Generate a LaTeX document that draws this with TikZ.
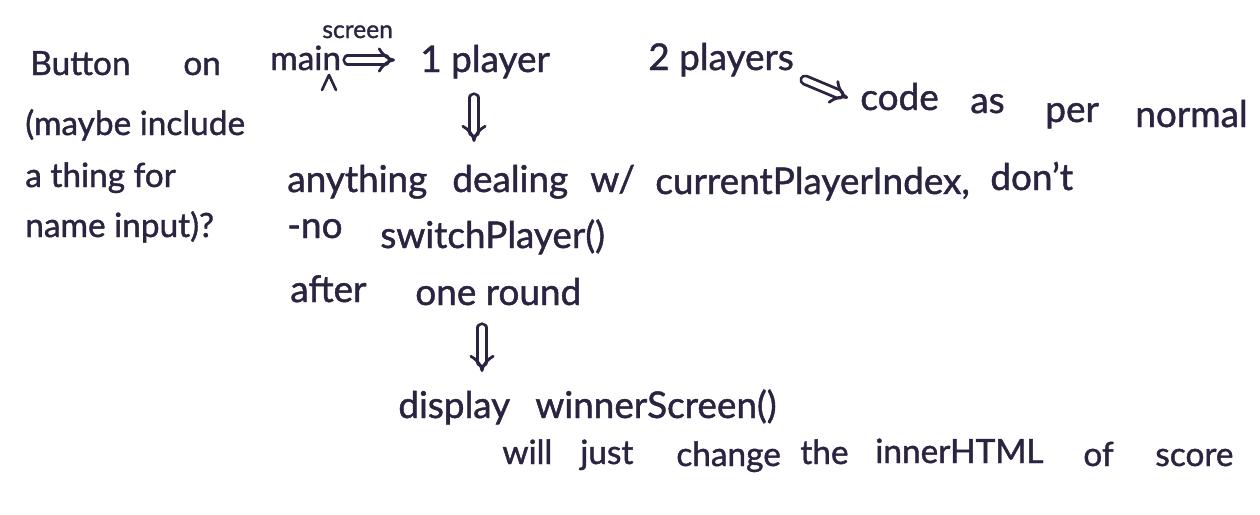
\documentclass[tikz,border=0pt]{standalone}
\usepackage{fontspec}
\setmainfont{Lato}[FakeBold=1.2]
\usetikzlibrary{arrows.meta}
\definecolor{ink}{HTML}{2B2340}
\begin{document}
\begin{tikzpicture}[x=0.02cm,y=-0.02cm,
  note/.style={anchor=base west,inner sep=0pt,text=ink,font=\fontsize{21}{24}\selectfont},
  tight/.style={note,font=\fontsize{19}{22}\selectfont},
  small/.style={note,font=\fontsize{14}{17}\selectfont},
  imply/.style={draw=ink,line width=1.6pt,double=white,double distance=3.2pt,-{Implies},line cap=round}]
\useasboundingbox[fill=white] (0,0) rectangle (1260,514);

% first line: the two game modes
\node[tight] (button) at (30,75) {Button};
\node[tight] (on) at (183,75) {on};
\node[tight] (main) at (270,70) {main};
\node[small] (screen) at (322,38) {screen};
\draw[ink,line width=1.5pt,line cap=round,line join=round] (322,90) -- (329,75) -- (336,90);
\node[note] (one) at (420,72) {1 player};
\node[note] (two) at (648,70) {2 players};
\coordinate (m1) at (348,60);
\coordinate (m2) at (395,60);
\draw[imply] (m1) -- (m2);

% two players branch
\node[note] (code) at (860,110) {code};
\node[note] (as) at (970,113) {as};
\node[note] (per) at (1045,122) {per};
\node[note] (normal) at (1135,127) {normal};
\coordinate (t1) at (805,80);
\coordinate (t2) at (848,98);
\draw[imply] (t1) -- (t2);

% side remark
\node[tight] (maybe) at (25,135) {(maybe include};
\node[tight] (thing) at (25,187) {a thing for};
\node[tight] (name) at (25,237) {name input)?};

% one player branch
\coordinate (a1) at (474,98);
\coordinate (a2) at (474,142);
\draw[imply] (a1) -- (a2);
\node[note] (anything) at (287,192) {anything};
\node[note] (dealing) at (452,192) {dealing};
\node[note] (w) at (590,192) {w/};
\node[note] (cpi) at (655,194) {currentPlayerIndex,};
\node[note] (dont) at (990,190) {don't};
\node[note] (no) at (287,238) {-no};
\node[note] (switch) at (380,248) {switchPlayer()};
\node[note] (after) at (290,302) {after};
\node[note] (round) at (415,305) {one round};
\coordinate (b1) at (482,328);
\coordinate (b2) at (482,372);
\draw[imply] (b1) -- (b2);
\node[note] (display) at (398,418) {display};
\node[note] (winner) at (535,418) {winnerScreen()};

% last remark
\node[tight] (will) at (502,464) {will};
\node[tight] (just) at (580,464) {just};
\node[tight] (change) at (676,466) {change};
\node[tight] (the) at (800,464) {the};
\node[tight] (inner) at (875,463) {innerHTML};
\node[tight] (of) at (1083,466) {of};
\node[tight] (score) at (1155,466) {score};
\end{tikzpicture}
\end{document}
